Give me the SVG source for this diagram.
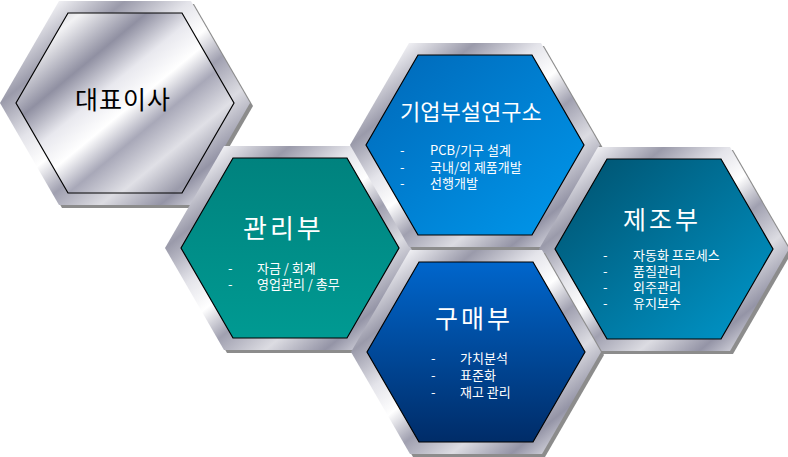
<svg xmlns="http://www.w3.org/2000/svg" xmlns:xlink="http://www.w3.org/1999/xlink" width="788" height="457" viewBox="0 0 788 457">
<defs>
<linearGradient id="metal" x1="0" y1="0" x2="1" y2="1">
<stop offset="0" stop-color="#b8b8c2"/>
<stop offset="0.12" stop-color="#eeeef2"/>
<stop offset="0.25" stop-color="#9a9aaa"/>
<stop offset="0.38" stop-color="#e4e4ea"/>
<stop offset="0.48" stop-color="#ffffff"/>
<stop offset="0.58" stop-color="#a0a0b0"/>
<stop offset="0.7" stop-color="#dcdce2"/>
<stop offset="0.82" stop-color="#9494a6"/>
<stop offset="0.92" stop-color="#e8e8ee"/>
<stop offset="1" stop-color="#b4b4c0"/>
</linearGradient>
<linearGradient id="metal2" x1="0" y1="0" x2="1" y2="1">
<stop offset="0" stop-color="#a8a8b4"/>
<stop offset="0.15" stop-color="#f2f2f4"/>
<stop offset="0.3" stop-color="#9090a2"/>
<stop offset="0.42" stop-color="#e8e8ee"/>
<stop offset="0.52" stop-color="#ffffff"/>
<stop offset="0.62" stop-color="#a8a8b8"/>
<stop offset="0.74" stop-color="#e0e0e6"/>
<stop offset="0.86" stop-color="#9a9aaa"/>
<stop offset="1" stop-color="#d8d8e0"/>
</linearGradient>
<linearGradient id="teal" x1="0" y1="0" x2="0" y2="1">
<stop offset="0" stop-color="#00827e"/>
<stop offset="1" stop-color="#009a92"/>
</linearGradient>
<linearGradient id="blue1" x1="0" y1="0" x2="1" y2="1">
<stop offset="0" stop-color="#0068b8"/>
<stop offset="1" stop-color="#0098ec"/>
</linearGradient>
<linearGradient id="blue2" x1="0" y1="0" x2="1" y2="1">
<stop offset="0" stop-color="#00506c"/>
<stop offset="1" stop-color="#0098cc"/>
</linearGradient>
<linearGradient id="blue3" x1="0" y1="0" x2="0" y2="1">
<stop offset="0" stop-color="#0066cc"/>
<stop offset="1" stop-color="#002c68"/>
</linearGradient>
<polygon id="outer" points="-125,0 -66,-102 66,-102 125,0 66,102 -66,102"/>
<polygon id="inner" points="-109,0 -57,-90 57,-90 109,0 57,90 -57,90"/>
</defs>
<style>
.shadow{fill:#8c8c8c}
.frame{fill:url(#metal)}
.in{stroke:#000;stroke-width:1.2}
.title{font-family:"Noto Sans CJK KR","Noto Sans",sans-serif;fill:#fff}
.item{font-family:"Noto Sans CJK KR","Noto Sans",sans-serif;font-size:13px;fill:#fff}
</style>

<g id="ceo">
<use xlink:href="#outer" class="shadow" transform="translate(128,106)"/>
<use xlink:href="#outer" class="frame" transform="translate(125,103)"/>
<use xlink:href="#inner" class="in" fill="url(#metal2)" transform="translate(125,103)"/>
<text x="75" y="109" class="title" style="fill:#000;font-size:25px;letter-spacing:1px">대표이사</text>
</g>

<g id="admin">
<use xlink:href="#outer" class="shadow" transform="translate(293,251)"/>
<use xlink:href="#outer" class="frame" transform="translate(290,248)"/>
<use xlink:href="#inner" class="in" fill="url(#teal)" transform="translate(290,248)"/>
<text x="243" y="238" class="title" style="font-size:26px;letter-spacing:3px">관리부</text>
<text x="228" y="273" class="item">-</text><text x="257" y="273" class="item">자금 / 회계</text>
<text x="228" y="289" class="item">-</text><text x="257" y="289" class="item">영업관리 / 총무</text>
</g>

<g id="rnd">
<use xlink:href="#outer" class="shadow" transform="translate(478,148)"/>
<use xlink:href="#outer" class="frame" transform="translate(475,145)"/>
<use xlink:href="#inner" class="in" fill="url(#blue1)" transform="translate(475,145)"/>
<text x="400" y="120" class="title" style="font-size:22px">기업부설연구소</text>
<text x="400" y="155" class="item">-</text><text x="430" y="155" class="item">PCB/기구 설계</text>
<text x="400" y="172" class="item">-</text><text x="430" y="172" class="item">국내/외 제품개발</text>
<text x="400" y="188" class="item">-</text><text x="430" y="188" class="item">선행개발</text>
</g>

<g id="mfg">
<use xlink:href="#outer" class="shadow" transform="translate(667,252)"/>
<use xlink:href="#outer" class="frame" transform="translate(664,249)"/>
<use xlink:href="#inner" class="in" fill="url(#blue2)" transform="translate(664,249)"/>
<text x="623" y="229" class="title" style="font-size:25px;letter-spacing:3px">제조부</text>
<text x="603" y="260" class="item">-</text><text x="633" y="260" class="item">자동화 프로세스</text>
<text x="603" y="276" class="item">-</text><text x="633" y="276" class="item">품질관리</text>
<text x="603" y="292" class="item">-</text><text x="633" y="292" class="item">외주관리</text>
<text x="603" y="308" class="item">-</text><text x="633" y="308" class="item">유지보수</text>
</g>

<g id="purchase">
<use xlink:href="#outer" class="shadow" transform="translate(479,355)"/>
<use xlink:href="#outer" class="frame" transform="translate(476,352)"/>
<use xlink:href="#inner" class="in" fill="url(#blue3)" transform="translate(476,352)"/>
<text x="435" y="328" class="title" style="font-size:25px;letter-spacing:3px">구매부</text>
<text x="431" y="363" class="item">-</text><text x="460" y="363" class="item">가치분석</text>
<text x="431" y="380" class="item">-</text><text x="460" y="380" class="item">표준화</text>
<text x="431" y="397" class="item">-</text><text x="460" y="397" class="item">재고 관리</text>
</g>

<g id="connectors"/>
</svg>
